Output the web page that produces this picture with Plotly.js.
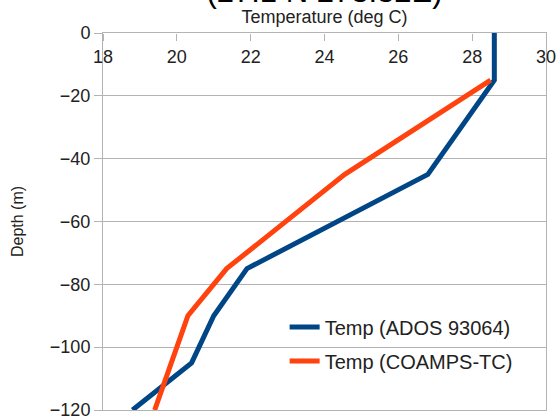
<!DOCTYPE html>
<html>
<head>
<meta charset="utf-8">
<script src="https://cdn.plot.ly/plotly-3.0.1.min.js"></script>
<style>html,body{margin:0;padding:0;background:#fff;}#chart{width:556px;height:420px;}</style>
</head>
<body>
<div id="chart"></div>
<script>
const depthAdos = [0, -15, -45, -75, -90, -105, -120];
const tempAdos = [28.6, 28.6, 26.8, 21.9, 21.0, 20.4, 18.8];
const depthCoamps = [-15, -45, -75, -90, -105, -120];
const tempCoamps = [28.5, 24.55, 21.35, 20.3, 19.85, 19.4];
const seriesNames = ['Temp (ADOS 93064)', 'Temp (COAMPS-TC)'];
const chartTitle = '(27.1 N 273.32E)';
const xTitle = 'Temperature (deg C)';
const yTitle = 'Depth (m)';

const FONT = 'Liberation Sans, Arial, sans-serif';
const data = [
  {x: tempAdos, y: depthAdos, name: seriesNames[0], type: 'scatter', mode: 'lines',
   legendgroup: 'a', line: {color: '#004586', width: 5}, xaxis: 'x', yaxis: 'y'},
  {x: tempCoamps, y: depthCoamps, name: seriesNames[1], type: 'scatter', mode: 'lines',
   legendgroup: 'b', line: {color: '#ff420e', width: 5}, xaxis: 'x2', yaxis: 'y'}
];
const layout = {
  width: 556, height: 420,
  margin: {l: 103, r: 10, t: 33, b: 10},
  paper_bgcolor: '#fff', plot_bgcolor: '#fff',
  font: {family: FONT, color: '#222'},
  showlegend: true,
  title: {text: chartTitle, font: {family: FONT, size: 31, color: '#000'},
          x: 0.5, xref: 'paper', xanchor: 'center', y: 0.996, yref: 'container', yanchor: 'bottom'},
  xaxis: {
    range: [18, 30], dtick: 2, tick0: 18, side: 'bottom', anchor: 'free', position: 1,
    ticks: 'outside', ticklen: 7, tickcolor: '#b3b3b3', tickwidth: 1,
    showline: false, showgrid: false, zeroline: false, ticklabeloverflow: 'allow',
    tickfont: {family: FONT, size: 18, color: '#222'}
  },
  xaxis2: {
    range: [18, 30], matches: 'x', overlaying: 'x', side: 'top', anchor: 'y',
    showticklabels: false, ticks: '', showgrid: false, zeroline: false,
    showline: true, mirror: true, linecolor: '#b3b3b3', linewidth: 1,
    title: {text: xTitle, font: {family: FONT, size: 18, color: '#222'}, standoff: 3}
  },
  yaxis: {
    range: [-120, 0], dtick: 20, tick0: 0,
    ticks: 'outside', ticklen: 8, tickcolor: '#b3b3b3', ticklabeloverflow: 'allow',
    showline: true, mirror: true, linecolor: '#b3b3b3', linewidth: 1,
    showgrid: true, gridcolor: '#b3b3b3', gridwidth: 1, zeroline: false,
    tickfont: {family: FONT, size: 18, color: '#222'},
    title: {text: yTitle, font: {family: FONT, size: 16, color: '#222'}, standoff: 22}
  },
  legend: {x: 0.41, xanchor: 'left', y: 0.272, yanchor: 'top', tracegroupgap: 5,
           bgcolor: 'rgba(0,0,0,0)', font: {family: FONT, size: 20, color: '#222'}}
};
Plotly.newPlot('chart', data, layout, {displayModeBar: false, staticPlot: true});
</script>
</body>
</html>
